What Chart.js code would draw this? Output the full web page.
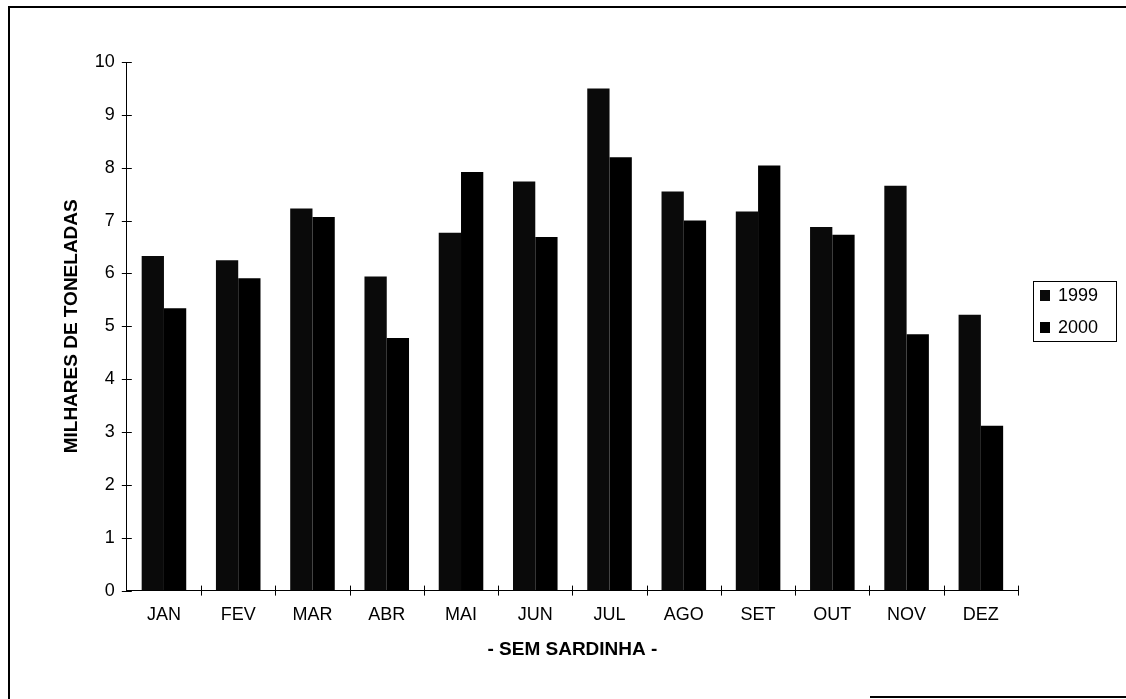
<!DOCTYPE html>
<html>
<head>
<meta charset="utf-8">
<script src="https://cdn.jsdelivr.net/npm/chart.js@4.4.0/dist/chart.umd.min.js"></script>
<style>
  html, body { margin: 0; padding: 0; background: #fff; }
</style>
</head>
<body>
<canvas id="myChart" width="1126" height="699"></canvas>
<script>
// months (categories)
const months = ['JAN', 'FEV', 'MAR', 'ABR', 'MAI', 'JUN', 'JUL', 'AGO', 'SET', 'OUT', 'NOV', 'DEZ'];
// thousands of tonnes
const values1999 = [6.33, 6.25, 7.23, 5.94, 6.77, 7.74, 9.5, 7.55, 7.17, 6.88, 7.66, 5.22];
const values2000 = [5.34, 5.91, 7.07, 4.78, 7.92, 6.69, 8.2, 7.0, 8.04, 6.73, 4.85, 3.12];
const yTicks = [0, 1, 2, 3, 4, 5, 6, 7, 8, 9, 10];
const seriesNames = ['1999', '2000'];

const font = 'Arial, "Liberation Sans", sans-serif';

// ticks crossing both axes + hand-drawn legend box + page frame
const extras = {
    id: 'extras',
    beforeDraw(chart) {
        const c = chart.ctx;
        c.save();
        c.fillStyle = '#fff';
        c.fillRect(0, 0, chart.width, chart.height);
        c.restore();
    },
    afterDraw(chart) {
        const c = chart.ctx, a = chart.chartArea;
        const x = chart.scales.x, y = chart.scales.y;
        c.save();
        c.strokeStyle = '#000';
        c.lineWidth = 1;
        c.beginPath();
        yTicks.forEach(v => {
            const py = Math.round(y.getPixelForValue(v)) + 0.5;
            c.moveTo(a.left - 5, py);
            c.lineTo(a.left + 5, py);
        });
        const step = (a.right - a.left) / months.length;
        for (let i = 1; i <= months.length; i++) {
            const px = Math.round(a.left + i * step) + 0.5;
            c.moveTo(px, a.bottom - 5);
            c.lineTo(px, a.bottom + 5);
        }
        c.stroke();

        // legend
        const lx = 1033, ly = 281;
        c.strokeRect(lx + 0.5, ly + 0.5, 83, 60);
        c.font = '18px ' + font;
        c.textBaseline = 'middle';
        c.textAlign = 'left';
        chart.data.datasets.forEach((ds, i) => {
            const cy = ly + 14 + i * 32;
            c.fillStyle = ds.backgroundColor;
            c.fillRect(lx + 7, cy - 5, 10, 11);
            c.fillStyle = '#000';
            c.fillText(seriesNames[i], lx + 25, cy + 1);
        });

        // frame of the scanned page
        c.lineWidth = 2;
        c.beginPath();
        c.moveTo(9, 699);
        c.lineTo(9, 7);
        c.lineTo(1126, 7);
        c.moveTo(870, 697);
        c.lineTo(1126, 697);
        c.stroke();
        c.restore();
    }
};

const ctx = document.getElementById('myChart');
const myChart = new Chart(ctx, {
    type: 'bar',
    data: {
        labels: months,
        datasets: [{
            label: seriesNames[0],
            data: values1999,
            backgroundColor: '#0a0a0a',
            borderWidth: 0
        }, {
            label: seriesNames[1],
            data: values2000,
            backgroundColor: '#000',
            borderWidth: 0
        }]
    },
    options: {
        responsive: false,
        animation: false,
        layout: { padding: { left: 60, top: 62, right: 108, bottom: 38 } },
        datasets: {
            bar: { barPercentage: 1, categoryPercentage: 0.6 }
        },
        plugins: {
            tooltip: { enabled: false },
            legend: { display: false }
        },
        scales: {
            x: {
                grid: { display: false, drawTicks: false },
                border: { display: true, color: '#000', width: 1 },
                ticks: { color: '#000', font: { family: font, size: 18 }, padding: 14, maxRotation: 0 },
                title: {
                    display: true,
                    text: '- SEM SARDINHA -',
                    color: '#000',
                    font: { family: font, size: 19, weight: 'bold' },
                    padding: { top: -2, bottom: 0 }
                }
            },
            y: {
                min: 0,
                max: 10,
                grid: { display: false, drawTicks: false },
                border: { display: true, color: '#000', width: 1 },
                ticks: { stepSize: 1, color: '#000', font: { family: font, size: 18 }, padding: 12 },
                title: {
                    display: true,
                    text: 'MILHARES DE TONELADAS',
                    color: '#000',
                    font: { family: font, size: 19, weight: 'bold' },
                    padding: { top: 0, bottom: 0 }
                }
            }
        }
    },
    plugins: [extras]
});
</script>
</body>
</html>
